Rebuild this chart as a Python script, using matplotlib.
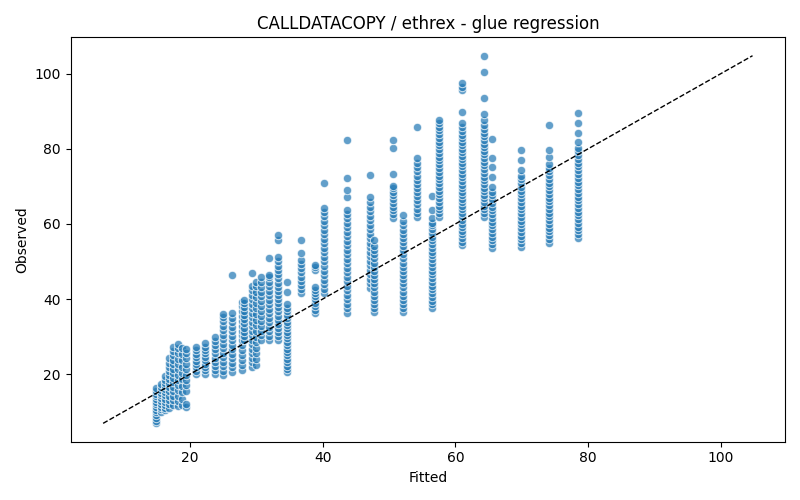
import matplotlib
matplotlib.use("Agg")
import matplotlib.pyplot as plt
import numpy as np

fit_levels = [14.9, 15.6, 16.3, 16.9, 17.5, 18.2, 18.8, 19.4,
              20.9, 22.3, 23.7, 25.0, 26.4, 27.8, 28.1, 29.4, 30.0, 30.7,
              31.9, 33.3, 34.6, 36.8, 38.9, 40.2, 43.6, 47.1, 47.7, 50.6,
              52.1, 54.2, 56.5, 57.5, 61.0, 64.3, 65.5, 69.9, 74.1, 78.5]

obs_columns = [
    [6.9, 7.6, 8.3, 9.0, 9.8, 10.5, 11.2, 12.0, 12.6, 13.3, 14.1, 14.8, 15.5, 16.2],
    [9.8, 10.6, 11.3, 12.1, 12.8, 13.6, 14.4, 15.1, 15.9, 16.6, 17.4],
    [10.4, 11.0, 11.9, 12.7, 13.5, 14.4, 15.2, 16.0, 16.9, 17.7, 18.5, 19.4],
    [11.0, 12.1, 13.2, 14.3, 15.4, 16.5, 17.6, 18.7, 19.8, 20.9, 22.0, 23.1, 24.2],
    [11.8, 13.0, 14.2, 15.4, 16.6, 17.8, 19.0, 20.2, 21.4, 22.6, 23.8, 25.0, 26.2, 27.2],
    [11.5, 12.9, 14.3, 15.7, 17.1, 18.5, 19.9, 21.3, 22.7, 24.1, 25.5, 26.9, 28.1],
    [11.8, 13.5, 15.2, 16.9, 18.6, 20.3, 22.0, 23.7, 25.4, 27.0],
    [11.2, 12.0, 15.5, 17.0, 18.5, 19.9, 21.4, 22.8, 24.3, 25.7, 26.8],
    [20.0, 20.9, 21.8, 22.7, 23.6, 24.5, 25.4, 26.3, 27.2],
    [20.1, 21.0, 21.9, 22.8, 23.7, 24.6, 25.5, 26.4, 27.3, 28.3],
    [20.0, 21.1, 22.2, 23.3, 24.4, 25.5, 26.6, 27.7, 28.8, 30.0],
    [19.8, 20.9, 22.1, 23.3, 24.5, 25.7, 26.9, 28.1, 29.3, 30.5, 31.7, 32.9, 34.1, 35.3, 36.1],
    [20.6, 21.8, 23.0, 24.2, 25.4, 26.6, 27.8, 29.0, 30.2, 31.4, 32.6, 33.8, 35.0, 36.2, 46.4],
    [21.2, 22.5, 23.8, 25.1, 26.4, 27.7, 29.0, 30.3, 31.6, 32.9, 34.2, 35.5, 36.8, 38.1, 39.3],
    [29.1, 30.2, 31.3, 32.4, 33.5, 34.6, 35.7, 36.8, 37.9, 39.0, 39.7],
    [22.0, 23.2, 24.4, 25.6, 26.8, 28.0, 29.2, 30.4, 31.6, 32.8, 34.0, 35.2, 36.4, 37.6,
     38.8, 40.0, 41.2, 42.4, 43.6, 46.9],
    [22.5, 24.0, 25.5, 27.0, 28.5, 30.0, 31.5, 33.0, 34.5, 36.0, 37.5, 39.0, 40.5, 42.0, 43.5, 44.6],
    [29.0, 30.3, 31.6, 32.9, 34.2, 35.5, 36.8, 38.1, 39.4, 40.7, 42.0, 43.3, 44.6, 45.9],
    [29.0, 30.2, 31.4, 32.6, 33.8, 35.0, 36.2, 37.4, 38.6, 39.8, 41.0, 42.2, 43.4, 44.6,
     45.8, 46.4, 50.9],
    [29.0, 30.1, 31.2, 32.3, 33.4, 34.5, 35.6, 36.7, 37.8, 38.9, 40.0, 41.1, 42.2, 43.3,
     44.4, 45.5, 46.6, 47.7, 48.8, 50.0, 51.2, 55.7, 57.0],
    [20.5, 21.4, 22.3, 23.2, 24.1, 25.0, 25.9, 26.8, 27.7, 28.6, 29.5, 30.4, 31.3, 32.2,
     33.1, 34.0, 34.9, 35.8, 36.7, 37.6, 38.6, 41.9, 44.5],
    [41.6, 42.7, 43.8, 44.9, 46.0, 47.1, 48.2, 49.3, 50.4, 52.3, 55.7],
    [36.3, 37.2, 38.1, 39.0, 39.9, 40.8, 41.7, 42.5, 43.2, 47.7, 48.5, 49.0],
    [41.6, 42.8, 44.0, 45.2, 46.4, 47.6, 48.8, 50.0, 51.2, 52.4, 53.6, 54.8, 56.0, 57.2,
     58.4, 59.6, 60.8, 62.0, 63.2, 64.3, 70.9],
    [36.3, 37.5, 38.7, 39.9, 41.1, 42.3, 43.5, 44.7, 45.9, 47.1, 48.3, 49.5, 50.7, 51.9,
     53.1, 54.3, 55.5, 56.7, 57.9, 59.1, 60.3, 61.5, 62.7, 63.7, 67.2, 69.0, 72.2, 82.3],
    [43.0, 44.2, 45.4, 46.6, 47.8, 49.0, 50.2, 51.4, 52.6, 53.8, 55.0, 56.2, 57.4, 58.6,
     59.8, 61.0, 62.2, 63.4, 64.6, 65.8, 67.2, 73.0],
    [36.5, 37.6, 38.7, 39.8, 40.9, 42.0, 43.1, 44.2, 45.3, 46.4, 47.5, 48.6, 49.7, 50.8,
     51.9, 53.0, 54.2, 55.7],
    [61.6, 62.6, 63.6, 64.6, 65.6, 66.6, 67.6, 68.6, 69.6, 70.0, 73.3, 80.3, 82.4],
    [36.5, 37.6, 38.7, 39.8, 40.9, 42.0, 43.1, 44.2, 45.3, 46.4, 47.5, 48.6, 49.7, 50.8,
     51.9, 53.0, 54.1, 55.2, 56.3, 57.4, 58.5, 59.6, 60.7, 62.4],
    [61.9, 63.0, 64.1, 65.2, 66.3, 67.4, 68.5, 69.6, 70.7, 71.8, 72.9, 74.0, 75.1, 76.2,
     77.6, 85.9],
    [37.6, 38.6, 39.6, 40.6, 41.6, 42.6, 43.6, 44.6, 45.6, 46.6, 47.6, 48.6, 49.6, 50.6,
     51.6, 52.6, 53.6, 54.6, 55.6, 56.6, 57.6, 58.6, 59.6, 60.3, 61.6, 63.7, 67.5],
    [61.9, 62.9, 63.9, 64.9, 65.9, 66.9, 67.9, 68.9, 69.9, 70.9, 71.9, 72.9, 73.9, 74.9,
     75.9, 76.9, 77.9, 78.9, 79.9, 80.9, 81.9, 82.9, 83.9, 84.9, 85.9, 86.9, 87.7],
    [54.4, 55.3, 56.3, 57.2, 58.2, 59.1, 60.1, 61.0, 62.0, 62.9, 63.9, 64.8, 65.8, 66.7,
     67.7, 68.6, 69.6, 70.5, 71.5, 72.4, 73.4, 74.3, 75.3, 76.2, 77.2, 78.1, 79.1, 80.0,
     81.0, 81.9, 82.9, 83.8, 84.8, 85.8, 86.9, 89.9, 95.7, 96.6, 97.6],
    [61.9, 62.9, 63.9, 64.8, 65.8, 66.8, 67.8, 68.7, 69.7, 70.7, 71.7, 72.6, 73.6, 74.6,
     75.6, 76.5, 77.5, 78.5, 79.5, 80.4, 81.4, 82.4, 83.4, 84.3, 85.3, 86.3, 87.7, 89.3,
     93.6, 100.5, 104.8],
    [53.6, 54.6, 55.6, 56.6, 57.6, 58.6, 59.6, 60.6, 61.6, 62.6, 63.6, 64.6, 65.6, 66.6,
     67.6, 68.6, 69.9, 72.5, 75.2, 77.6, 82.7],
    [53.9, 54.9, 55.9, 56.9, 57.9, 58.9, 59.9, 60.9, 61.9, 62.9, 63.9, 64.9, 65.9, 66.9,
     67.9, 68.9, 69.9, 70.9, 71.9, 72.9, 74.4, 77.0, 79.7],
    [55.0, 56.0, 57.0, 58.0, 59.0, 60.0, 61.0, 62.0, 63.0, 64.0, 65.0, 66.0, 67.0, 68.0,
     69.0, 70.0, 71.0, 72.0, 73.0, 74.0, 75.0, 76.0, 77.9, 79.7, 86.4],
    [56.3, 57.3, 58.3, 59.3, 60.3, 61.3, 62.3, 63.3, 64.3, 65.3, 66.3, 67.3, 68.3, 69.3,
     70.3, 71.3, 72.3, 73.3, 74.3, 75.3, 76.3, 77.3, 78.3, 79.3, 80.3, 81.9, 84.3, 86.9, 89.6],
]

fitted = np.concatenate([[f] * len(col) for f, col in zip(fit_levels, obs_columns)])
observed = np.concatenate(obs_columns)

fig, ax = plt.subplots(figsize=(8, 5), dpi=100)
ax.scatter(fitted, observed, s=36, color='#1f77b4', alpha=0.7,
           edgecolors='white', linewidths=0.75)

lo = min(fitted.min(), observed.min())
hi = max(fitted.max(), observed.max())
ax.plot([lo, hi], [lo, hi], 'k--', lw=1)

ax.set_xlabel("Fitted")
ax.set_ylabel("Observed")
ax.set_title("CALLDATACOPY / ethrex - glue regression")
fig.tight_layout()
fig.savefig("out.png", dpi=100)
